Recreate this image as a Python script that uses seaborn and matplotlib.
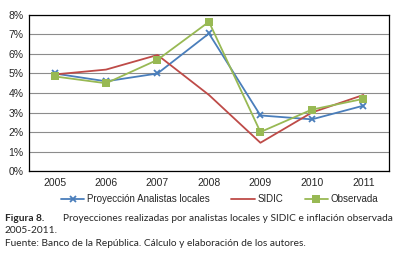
import numpy as np
import pandas as pd
import matplotlib
matplotlib.use('Agg')
from matplotlib import pyplot as plt
from matplotlib.ticker import FuncFormatter, FixedLocator
import seaborn as sns

sns.set_style('white')
plt.rcParams['font.family'] = ['Liberation Sans Narrow', 'Liberation Sans', 'DejaVu Sans']

years = ['2005', '2006', '2007', '2008', '2009', '2010', '2011']
analistas = [5.0, 4.6, 5.0, 7.05, 2.85, 2.65, 3.35]
sidic = [4.95, 5.2, 5.95, 3.9, 1.45, 3.0, 3.9]
observada = [4.85, 4.5, 5.7, 7.65, 2.0, 3.15, 3.7]
series_names = ['Proyección Analistas locales', 'SIDIC', 'Observada']

df = pd.DataFrame({
    'year': years * 3,
    'x': list(range(len(years))) * 3,
    'value': analistas + sidic + observada,
    'serie': [series_names[0]] * 7 + [series_names[1]] * 7 + [series_names[2]] * 7,
})

colors = {series_names[0]: '#4A7EBB', series_names[1]: '#BE4B48', series_names[2]: '#98B954'}
markers = {series_names[0]: 'x', series_names[1]: None, series_names[2]: 's'}

fig = plt.figure(figsize=(3.95, 2.58), dpi=100)
ax = fig.add_axes([0.073, 0.337, 0.912, 0.605])

for name in series_names:
    d = df[df.serie == name]
    mk = markers[name]
    sns.lineplot(data=d, x='x', y='value', ax=ax, color=colors[name],
                 marker=mk, markersize=6 if mk == 's' else 5,
                 markeredgecolor=colors[name],
                 markeredgewidth=1.3 if mk == 'x' else 0,
                 linewidth=1.3, label=name)

ax.set_xlim(-0.5, 6.5)
ax.set_ylim(0, 8)
ax.set_yticks(range(0, 9))
ax.yaxis.set_major_formatter(FuncFormatter(lambda v, p: f'{int(v)}%'))
ax.yaxis.grid(True, color='#8C8C8C', linewidth=0.8)
ax.set_axisbelow(True)
ax.xaxis.set_major_locator(FixedLocator(np.arange(-0.5, 7.0, 1.0)))
ax.xaxis.set_minor_locator(FixedLocator(range(len(years))))
ax.set_xticklabels([])
ax.set_xticklabels(years, minor=True)
ax.tick_params(axis='x', which='major', direction='out', length=4, width=0.8, color='black')
ax.tick_params(axis='x', which='minor', length=0, labelsize=7.5, pad=5)
ax.tick_params(axis='y', direction='out', length=3, width=0.8, color='black', labelsize=7.5, pad=1)
for s in ax.spines.values():
    s.set_color('black')
    s.set_linewidth(0.9)
ax.set_xlabel('')
ax.set_ylabel('')

ax.legend(loc='center', bbox_to_anchor=(0.53, -0.18), ncol=3, frameon=False,
          fontsize=7, handlelength=2.4, columnspacing=2.2, handletextpad=0.3,
          borderpad=0, borderaxespad=0)

cap = ['Lato', 'DejaVu Sans']
fig.text(0.012, 0.145, 'Figura 8.', fontsize=7.3, fontweight='bold', family=cap)
fig.text(0.16, 0.145, 'Proyecciones realizadas por analistas locales y SIDIC e inflación observada',
         fontsize=7.3, family=cap)
fig.text(0.012, 0.095, '2005-2011.', fontsize=7.3, family=cap)
fig.text(0.012, 0.045, 'Fuente: Banco de la República. Cálculo y elaboración de los autores.',
         fontsize=7.3, family=cap)

fig.savefig('out.png', dpi=100)
